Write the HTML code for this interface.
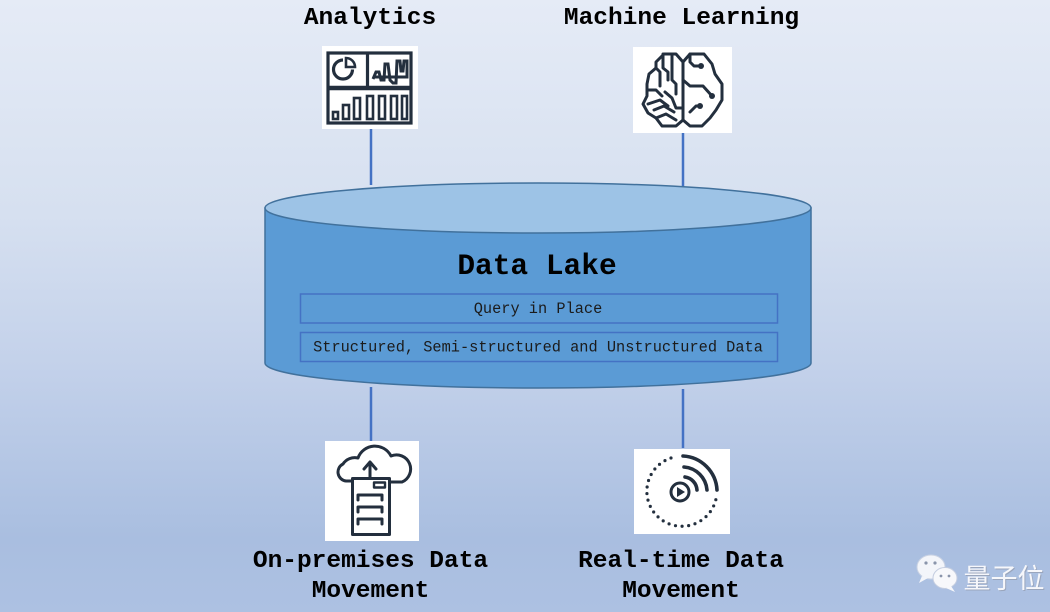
<!DOCTYPE html>
<html>
<head>
<meta charset="utf-8">
<style>
html,body{margin:0;padding:0;}
body{width:1050px;height:612px;overflow:hidden;background:linear-gradient(to bottom,#e5ebf6 0%,#d6e0f0 35%,#c3d1ea 60%,#a9bee0 88%,#adc1e2 100%);}
svg{display:block;}
.mono{font-family:"Liberation Mono","Courier New",monospace;}
</style>
</head>
<body>
<svg width="1050" height="612" viewBox="0 0 1050 612" xmlns="http://www.w3.org/2000/svg">
  <!-- Labels -->
  <g class="mono" font-weight="bold" font-size="24.5" fill="#000" text-anchor="middle">
    <text x="370" y="24">Analytics</text>
    <text x="681.5" y="24">Machine Learning</text>
    <text x="370.5" y="567">On-premises Data</text>
    <text x="370.5" y="597">Movement</text>
    <text x="681" y="567">Real-time Data</text>
    <text x="681" y="597">Movement</text>
  </g>

  <!-- Connectors -->
  <g stroke="#4472c4" stroke-width="2.5">
    <line x1="371" y1="129" x2="371" y2="185"/>
    <line x1="683" y1="133" x2="683" y2="186"/>
    <line x1="371" y1="387" x2="371" y2="441"/>
    <line x1="683" y1="389" x2="683" y2="448"/>
  </g>

  <!-- Cylinder -->
  <path d="M265,208 L265,363 A273,25 0 0 0 811,363 L811,208 Z" fill="#5b9bd5" stroke="#41719c" stroke-width="1.5"/>
  <ellipse cx="538" cy="208" rx="273" ry="25" fill="#9dc3e6" stroke="#41719c" stroke-width="1.5"/>
  <text class="mono" x="537" y="274" font-size="29.5" font-weight="bold" text-anchor="middle" fill="#000">Data Lake</text>
  <rect x="300.5" y="294" width="477" height="29" fill="none" stroke="#4472c4" stroke-width="1.5"/>
  <rect x="300.5" y="332.5" width="477" height="29" fill="none" stroke="#4472c4" stroke-width="1.5"/>
  <g class="mono" font-size="15.3" fill="#1b1b1b" text-anchor="middle">
    <text x="538" y="313">Query in Place</text>
    <text x="538" y="351.5">Structured, Semi-structured and Unstructured Data</text>
  </g>

  <!-- Analytics icon -->
  <rect x="322" y="46" width="96" height="83" fill="#fff"/>
  <g fill="none" stroke="#232f3e" stroke-width="3.2">
    <rect x="328" y="53" width="83" height="70"/>
    <line x1="328" y1="88" x2="411" y2="88" stroke-width="4.5"/>
    <line x1="367.5" y1="53" x2="367.5" y2="88"/>
    <path d="M343,60 A9.5,9.5 0 1 0 352.5,69.5"/>
    <path d="M346,58 L346,67 L355,67 A9,9 0 0 0 346,58 Z" stroke-width="2.6"/>
    <polyline points="373,79 376,72 379,72 381,80 384,80 385,64 388,64 390,80 393,83 396,83 397,61 400,61 401,71 403,71 404,61 407,61 407,77 373,77" stroke-width="3"/>
    <rect x="333" y="112" width="5" height="7" stroke-width="2.6"/>
    <rect x="343" y="105" width="6" height="14" stroke-width="2.6"/>
    <rect x="354" y="98" width="6" height="21" stroke-width="2.6"/>
    <rect x="367" y="96" width="6" height="23" stroke-width="2.6"/>
    <rect x="379" y="96" width="6" height="23" stroke-width="2.6"/>
    <rect x="391" y="96" width="6" height="23" stroke-width="2.6"/>
    <rect x="402" y="96" width="5" height="23" stroke-width="2.6"/>
  </g>

  <!-- Machine learning icon -->
  <rect x="633" y="47" width="99" height="86" fill="#fff"/>
  <g fill="none" stroke="#232f3e" stroke-width="3" stroke-linejoin="round" stroke-linecap="round">
    <path d="M683,62 L676,54 L664,54 L656,62 L656,68 L649,74 L647,84 L647,96 L643,104 L648,113 L656,118 L662,126 L676,126 L683,120 L690,126 L702,126 L710,118 L716,110 L722,100 L722,84 L715,74 L712,64 L704,54 L690,54 Z"/>
    <line x1="683" y1="62" x2="683" y2="120"/>
    <path d="M663,54 L663,68 L668,72 L668,80"/>
    <path d="M672,56 L672,80 L676,84 L676,94"/>
    <path d="M656,68 L660,72 L660,86"/>
    <path d="M648,90 L656,90 L662,96"/>
    <path d="M648,104 L660,100 L668,106"/>
    <path d="M654,110 L664,106 L674,112"/>
    <path d="M656,118 L666,114 L676,120"/>
    <path d="M665,92 L672,98 L676,108 L683,108"/>
    <path d="M690,54 L690,62 L694,66 L700,66"/>
    <path d="M683,80 L690,86 L703,86 L712,96"/>
    <path d="M690,112 L696,106 L700,106"/>
  </g>
  <g fill="#232f3e">
    <circle cx="701" cy="66" r="3"/>
    <circle cx="712" cy="96" r="3"/>
    <circle cx="700" cy="106" r="3"/>
  </g>

  <!-- On-premises icon -->
  <rect x="325" y="441" width="94" height="100" fill="#fff"/>
  <g fill="none" stroke="#232f3e" stroke-width="3" stroke-linejoin="round" stroke-linecap="round">
    <path d="M352,481 L346,481 A9,9 0 0 1 343,464 A14,14 0 0 1 358,458 A18,18 0 0 1 391,456 A14,14 0 0 1 402,482 L390,482"/>
    <rect x="352.5" y="478.5" width="37" height="56"/>
    <rect x="374" y="482.5" width="11" height="5" stroke-width="2.4"/>
    <line x1="370" y1="463" x2="370" y2="478"/>
    <polyline points="364,469 370,462 376,469"/>
    <polyline points="358,500 358,495 382,495 382,500"/>
    <polyline points="358,512 358,507 382,507 382,512"/>
    <polyline points="358,524 358,519 382,519 382,524"/>
  </g>

  <!-- Real-time icon -->
  <rect x="634" y="449" width="96" height="85" fill="#fff"/>
  <g fill="none" stroke="#232f3e" stroke-linecap="round">
    <path d="M671,458 A35,35 0 1 0 716,499" stroke-width="3.2" stroke-dasharray="0 6.6"/>
    <path d="M683,456 A36,36 0 0 1 717,490" stroke-width="3.6"/>
    <path d="M684,467 A25,25 0 0 1 707,490" stroke-width="3.6"/>
    <path d="M685,477 A14,14 0 0 1 697,490" stroke-width="3.6"/>
    <circle cx="680" cy="492" r="9" stroke-width="3"/>
  </g>
  <path d="M677,487 L685,492 L677,497 Z" fill="#232f3e"/>

  <!-- Watermark -->
  <g>
    <ellipse cx="931" cy="567" rx="14" ry="12" fill="#f3f5fa" stroke="#c9d2e3" stroke-width="1"/>
    <path d="M922,576 L919,583 L928,578 Z" fill="#f3f5fa"/>
    <ellipse cx="945" cy="578" rx="12" ry="10.5" fill="#f7f8fb" stroke="#c4cde0" stroke-width="1"/>
    <path d="M951,586 L955,592 L946,588 Z" fill="#f7f8fb"/>
    <circle cx="926" cy="563" r="1.6" fill="#8a95ab"/>
    <circle cx="935" cy="563" r="1.6" fill="#8a95ab"/>
    <circle cx="941" cy="576" r="1.4" fill="#8a95ab"/>
    <circle cx="949" cy="576" r="1.4" fill="#8a95ab"/>
  </g>
  <text x="1004" y="588" font-family="'Liberation Sans','Noto Sans CJK SC',sans-serif" font-size="27" fill="#9aa6bd" text-anchor="middle" dx="1" dy="1">量子位</text>
  <text x="1004" y="588" font-family="'Liberation Sans','Noto Sans CJK SC',sans-serif" font-size="27" fill="#f6f7fb" text-anchor="middle">量子位</text>
</svg>
</body>
</html>
